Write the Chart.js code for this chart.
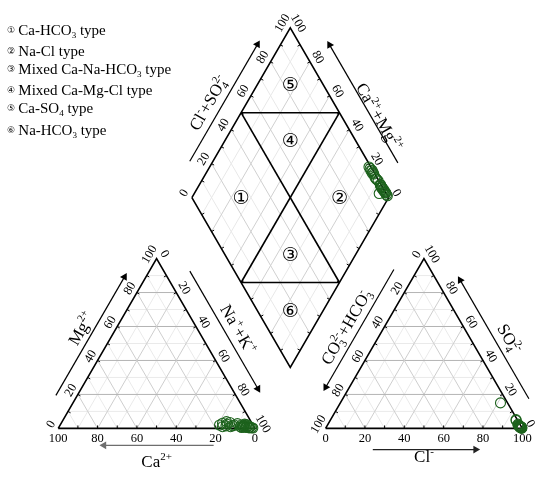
<!DOCTYPE html>
<html>
<head>
<meta charset="utf-8">
<script src="https://cdn.jsdelivr.net/npm/chart.js@4/dist/chart.umd.min.js"></script>
<style>
  html, body { margin: 0; padding: 0; background: #fff; }
  #wrap { width: 550px; height: 480px; }
</style>
</head>
<body>
<div id="wrap"><canvas id="piper" width="550" height="480"></canvas></div>
<script>
// sample compositions, meq %
const ca   = [17, 15, 14, 13, 12, 11, 10.5, 9.5, 16, 12.5, 7, 6, 5.5, 5, 4.5, 4, 3.5, 3, 2.5, 2, 1.5, 6.5, 5.8, 4.2, 3.2, 7.5, 2.8, 1];
const mg   = [2, 3, 1.5, 2.5, 1, 3.5, 1.5, 2, 1, 4, 1, 2, 0.8, 1.5, 0.6, 2.5, 1, 0.5, 1.5, 0.8, 0.4, 0.5, 1.2, 1.8, 2.2, 2.8, 0.3, 0.2];
const nak  = [81, 82, 84.5, 84.5, 87, 85.5, 88, 88.5, 83, 83.5, 92, 92, 93.7, 93.5, 94.9, 93.5, 95.5, 96.5, 96, 97.2, 98.1, 93, 93, 94, 94.6, 89.7, 96.9, 98.8];
const hco3 = [1.0, 0.8, 1.2, 0.5, 1.0, 0.6, 0.9, 0.7, 1.1, 0.4, 0.5, 0.3, 0.6, 0.4, 0.2, 0.5, 0.3, 0.2, 0.4, 0.1, 0.3, 0.5, 0.8, 3.6, 0.6, 0.4, 0.2, 0.1];
const so4  = [1.5, 1.2, 2.0, 1.0, 0.8, 1.5, 2.5, 0.6, 1.8, 1.1, 0.8, 0.5, 1.0, 0.4, 0.7, 0.9, 0.3, 0.6, 0.2, 0.5, 0.4, 1.3, 4.7, 15.0, 5.2, 0.9, 0.3, 0.2];
const cl   = [97.5, 98.0, 96.8, 98.5, 98.2, 97.9, 96.6, 98.7, 97.1, 98.5, 98.7, 99.2, 98.4, 99.2, 99.1, 98.6, 99.4, 99.2, 99.4, 99.4, 99.3, 98.2, 94.5, 81.4, 94.2, 98.7, 99.5, 99.7];

const tickVals = [0, 20, 40, 60, 80, 100];
const gridVals = [10, 20, 30, 40, 50, 60, 70, 80, 90];
const regionMarks = ['\u2460', '\u2461', '\u2462', '\u2463', '\u2464', '\u2465'];
const regionNames = ['Ca-HCO_{3} type', 'Na-Cl type', 'Mixed Ca-Na-HCO_{3} type', 'Mixed Ca-Mg-Cl type', 'Ca-SO_{4} type', 'Na-HCO_{3} type'];

// ---- layout ----
const SERIF = "'Liberation Serif', 'Times New Roman', serif";
const H = Math.sqrt(3) / 2;
const GAP = 35.9;          // gap between the two triangles, in % units
const K = 2.012;           // px per % unit
const X0 = 53.3, Y0 = 433.3;
const XMIN = -X0 / K, XMAX = (550 - X0) / K, YMAX = Y0 / K, YMIN = (Y0 - 480) / K;
const GREEN = '#1d621d';

const catXY = (c, m, n) => ({ x: n + m / 2, y: m * H });
const RX = 100 + GAP;
const anXY = (h, s, c) => ({ x: RX + c + s / 2, y: s * H });
const DL = { x: 50 + GAP / 2, y: GAP / 2 * Math.sqrt(3) + 100 * H };
const dmXY = (n, s) => ({ x: DL.x + (n + s) / 2, y: DL.y + (s - n) * H });

const along = (A, B, t) => ({ x: A.x + (B.x - A.x) * t, y: A.y + (B.y - A.y) * t });
const shift = (P, nrm, px) => ({ x: P.x + nrm[0] * px / K, y: P.y + nrm[1] * px / K });

const datasets = [];
function seg(pts, color, width, order) {
  datasets.push({ data: pts, showLine: true, borderColor: color, borderWidth: width, pointRadius: 0, fill: false, order });
}

// ternary grid
function triGrid(toXY) {
  gridVals.forEach(p => {
    const major = p % 20 === 0;
    [[toXY(p, 100 - p, 0), toXY(p, 0, 100 - p)],
     [toXY(100 - p, p, 0), toXY(0, p, 100 - p)],
     [toXY(100 - p, 0, p), toXY(0, 100 - p, p)]].forEach((ln, i) => {
      if (!major) seg(ln, '#eaeaea', 1, 6);
      else seg(ln, i === 1 ? '#b4b4b4' : '#cecece', 1, 5);
    });
  });
}
triGrid(catXY);
triGrid(anXY);
gridVals.forEach(p => {
  const col = p % 20 === 0 ? '#d0d0d0' : '#e8e8e8';
  const o = p % 20 === 0 ? 5 : 6;
  seg([dmXY(p, 0), dmXY(p, 100)], col, 1, o);
  seg([dmXY(0, p), dmXY(100, p)], col, 1, o);
});

const cBL = catXY(100, 0, 0), cBR = catXY(0, 0, 100), cT = catXY(0, 100, 0);
const aBL = anXY(100, 0, 0), aBR = anXY(0, 0, 100), aT = anXY(0, 100, 0);
const dL = dmXY(0, 0), dT = dmXY(0, 100), dR = dmXY(100, 100), dB = dmXY(100, 0);

// small inward ticks on every side
function sideTicks(A, B, inward) {
  gridVals.forEach(p => {
    const P = along(A, B, p / 100);
    seg([P, shift(P, inward, 3)], '#000', 1, 3);
  });
}
sideTicks(cBL, cBR, [0, 1]); sideTicks(cBL, cT, [H, -0.5]); sideTicks(cT, cBR, [-H, -0.5]);
sideTicks(aBL, aBR, [0, 1]); sideTicks(aBL, aT, [H, -0.5]); sideTicks(aT, aBR, [-H, -0.5]);
sideTicks(dL, dT, [H, -0.5]); sideTicks(dT, dR, [-H, -0.5]);
sideTicks(dL, dB, [H, 0.5]); sideTicks(dB, dR, [-H, 0.5]);

// frames and diamond divisions
seg([cBL, cBR, cT, cBL], '#000', 1.6, 2);
seg([aBL, aBR, aT, aBL], '#000', 1.6, 2);
seg([dL, dT, dR, dB, dL], '#000', 1.6, 2);
seg([dmXY(0, 50), dmXY(100, 50)], '#000', 1.6, 2);
seg([dmXY(50, 0), dmXY(50, 100)], '#000', 1.6, 2);
seg([dmXY(0, 50), dmXY(50, 100)], '#000', 1.6, 2);
seg([dmXY(50, 0), dmXY(100, 50)], '#000', 1.6, 2);

// axis arrows
function arrow(A, B, t0, t1, nrm, offPx, color) {
  const P0 = shift(along(A, B, t0), nrm, offPx), P1 = shift(along(A, B, t1), nrm, offPx);
  const dx = P1.x - P0.x, dy = P1.y - P0.y, len = Math.hypot(dx, dy);
  const r = 4.5;
  const C = { x: P1.x - dx / len * r / K, y: P1.y - dy / len * r / K };
  seg([P0, C], color, 1.2, 1);
  datasets.push({
    data: [C], pointStyle: 'triangle', rotation: Math.atan2(dx, dy) * 180 / Math.PI,
    pointRadius: r, backgroundColor: color, borderColor: color, borderWidth: 0, order: 1,
  });
}
arrow(cBL, cT, 0.14, 0.86, [-H, 0.5], 19, '#000');
arrow(cT, cBR, 0.14, 0.855, [H, 0.5], 23, '#000');
arrow(cBR, cBL, 0.21, 0.79, [0, -1], 17.4, '#6e6e6e');
arrow(aT, aBL, 0.125, 0.84, [-H, 0.5], 21, '#000');
arrow(aBR, aT, 0.114, 0.835, [H, 0.5], 21, '#000');
arrow(aBL, aBR, 0.24, 0.785, [0, -1], 21.7, '#222');
arrow(dL, dT, 0.155, 0.866, [-H, 0.5], 20.5, '#000');
arrow(dR, dT, 0.13, 0.847, [H, 0.5], 26, '#000');

// samples
const ptStyle = { pointRadius: 5, pointStyle: 'circle', borderColor: GREEN, backgroundColor: 'rgba(0,0,0,0)', borderWidth: 1.1, showLine: false, order: 0 };
datasets.push({ ...ptStyle, data: ca.map((c, i) => catXY(c, mg[i], nak[i])) });
datasets.push({ ...ptStyle, data: hco3.map((h, i) => anXY(h, so4[i], cl[i])) });
datasets.push({ ...ptStyle, data: nak.map((n, i) => dmXY(n, so4[i] + cl[i])) });

// ---- text ----
const textItems = [];
function txt(P, text, size, rot, family) { textItems.push({ x: P.x, y: P.y, text, size, rot, family: family || SERIF }); }

tickVals.forEach(v => {
  txt(shift(catXY(v, 0, 100 - v), [0, -1], 9.4), String(v), 12.5, 0);
  txt(shift(catXY(100 - v, v, 0), [-H, 0.5], 9), String(v), 12.5, -60);
  txt(shift(catXY(0, 100 - v, v), [H, 0.5], 10), String(v), 12.5, 60);
  txt(shift(anXY(100 - v, 0, v), [0, -1], 9.4), String(v), 12.5, 0);
  txt(shift(anXY(v, 100 - v, 0), [-H, 0.5], 9), String(v), 12.5, -60);
  txt(shift(anXY(0, v, 100 - v), [H, 0.5], 10), String(v), 12.5, 60);
  txt(shift(dmXY(0, v), [-H, 0.5], 10), String(v), 12.5, -60);
  txt(shift(dmXY(100 - v, 100), [H, 0.5], 10), String(v), 12.5, 60);
});

txt(shift(catXY(50, 50, 0), [-H, 0.5], 31), 'Mg^{2+}', 17, -60);
txt(shift(catXY(0, 48, 52), [H, 0.5], 36), 'Na^{+}+K^{+}', 17, 60);
txt(shift(catXY(50, 0, 50), [0, -1], 34), 'Ca^{2+}', 17, 0);
txt(shift(anXY(50, 50, 0), [-H, 0.5], 34), 'CO_{3}^{2-}+HCO_{3}^{-}', 17, -60);
txt(shift(anXY(0, 43, 57), [H, 0.5], 34.5), 'SO_{4}^{2-}', 17, 60);
txt(shift(anXY(50, 0, 50), [0, -1], 29), 'Cl^{-}', 17, 0);
txt(shift(dmXY(0, 46), [-H, 0.5], 34), 'Cl^{-}+SO_{4}^{2-}', 17, -60);
txt(shift(dmXY(62, 100), [H, 0.5], 33), 'Ca^{2+}+Mg^{2+}', 17, 60);

const regionAt = [dmXY(25, 25), dmXY(75, 75), dmXY(66.7, 33.3), dmXY(33.3, 66.7), dmXY(16.7, 83.3), dmXY(83.3, 16.7)];
regionAt.forEach((P, i) => txt(P, regionMarks[i], 19, 0, "'DejaVu Sans', sans-serif"));

function parseRich(s) {
  const out = [], re = /([_^])\{([^}]*)\}|([^_^]+)/g;
  let m;
  while ((m = re.exec(s))) {
    if (m[3]) out.push({ t: m[3], k: 'n' });
    else out.push({ t: m[2], k: m[1] === '^' ? 'sup' : 'sub' });
  }
  return out;
}

function drawRich(ctx, s, size, family, align) {
  const small = Math.round(size * 0.62);
  const parts = parseRich(s);
  let w = 0;
  const placed = [];
  parts.forEach((p, i) => {
    ctx.font = (p.k === 'n' ? size : small) + 'px ' + family;
    const pw = ctx.measureText(p.t).width;
    const prev = parts[i - 1];
    if (p.k === 'sup' && prev && prev.k === 'sub') {
      const sx = placed[placed.length - 1].x;
      placed.push({ ...p, x: sx });
      w = Math.max(w, sx + pw);
    } else {
      placed.push({ ...p, x: w });
      w += pw;
    }
  });
  const x0 = align === 'left' ? 0 : -w / 2;
  const base = size * 0.33;
  ctx.textBaseline = 'alphabetic';
  ctx.textAlign = 'left';
  placed.forEach(p => {
    ctx.font = (p.k === 'n' ? size : small) + 'px ' + family;
    const dy = p.k === 'sup' ? -size * 0.42 : p.k === 'sub' ? size * 0.22 : 0;
    ctx.fillText(p.t, x0 + p.x, base + dy);
  });
}

const legendY = [30, 51, 69, 90, 108, 130];

const textPlugin = {
  id: 'piperText',
  afterDatasetsDraw(chart) {
    const { ctx, scales: { x, y } } = chart;
    ctx.save();
    ctx.fillStyle = '#000';
    textItems.forEach(it => {
      ctx.save();
      ctx.translate(x.getPixelForValue(it.x), y.getPixelForValue(it.y));
      ctx.rotate(it.rot * Math.PI / 180);
      drawRich(ctx, it.text, it.size, it.family, 'center');
      ctx.restore();
    });
    regionNames.forEach((name, i) => {
      ctx.save();
      ctx.translate(11, legendY[i]);
      drawRich(ctx, regionMarks[i], 9, "'DejaVu Sans', sans-serif", 'center');
      ctx.restore();
      ctx.save();
      ctx.translate(18.3, legendY[i]);
      drawRich(ctx, name, 15, SERIF, 'left');
      ctx.restore();
    });
    ctx.restore();
  },
};

new Chart(document.getElementById('piper'), {
  type: 'scatter',
  data: { datasets },
  options: {
    responsive: false, animation: false, devicePixelRatio: 1,
    events: [],
    layout: { padding: 0 },
    plugins: { legend: { display: false }, tooltip: { enabled: false } },
    scales: {
      x: { type: 'linear', min: XMIN, max: XMAX, display: false },
      y: { type: 'linear', min: YMIN, max: YMAX, display: false },
    },
  },
  plugins: [textPlugin],
});
</script>
</body>
</html>
